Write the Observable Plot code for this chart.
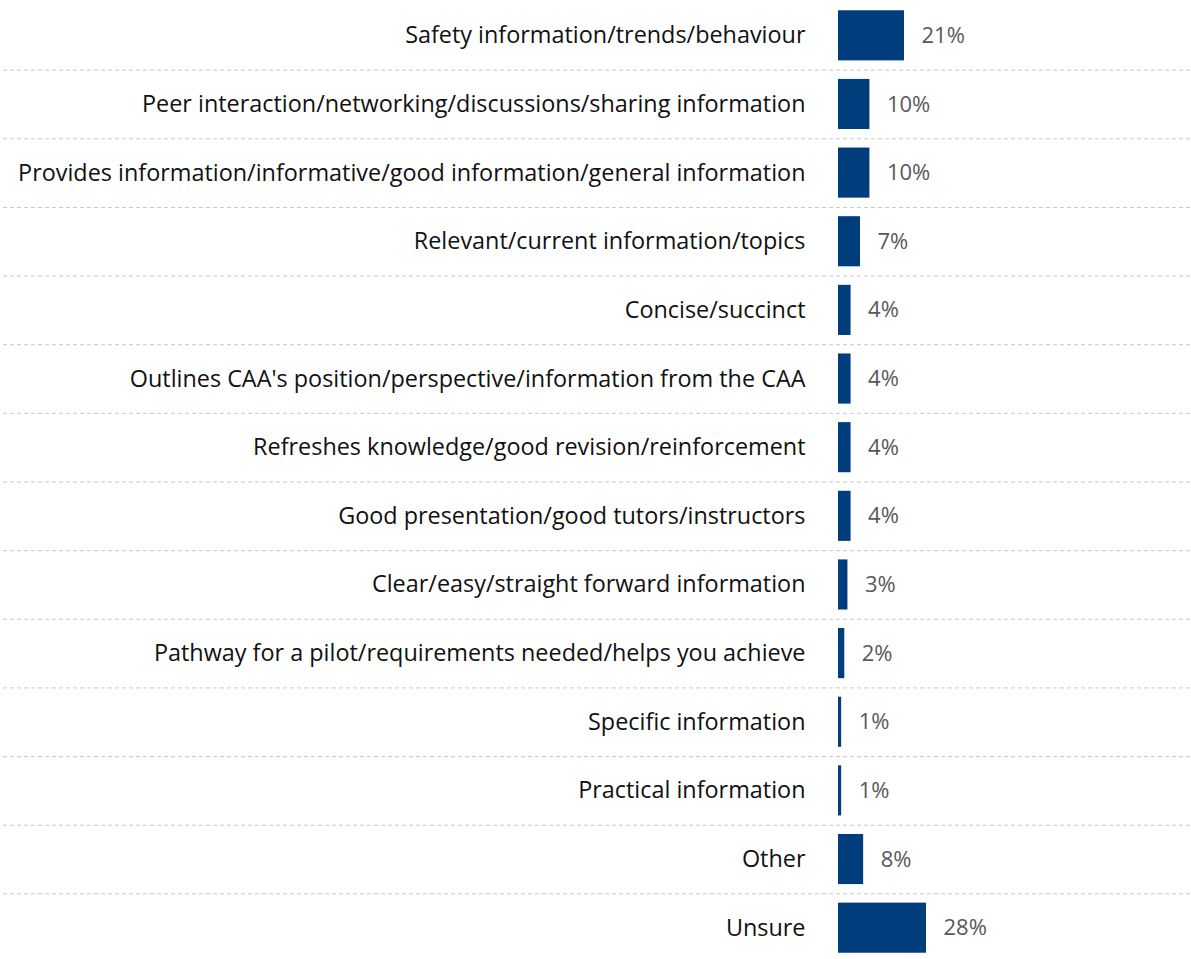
<!DOCTYPE html>
<html>
<head>
<meta charset="utf-8">
<script src="https://cdn.jsdelivr.net/npm/d3@7"></script>
<script src="https://cdn.jsdelivr.net/npm/@observablehq/plot@0.6"></script>
<style>
  html, body { margin: 0; padding: 0; background: #fff; }
  #chart svg { display: block; }
</style>
</head>
<body>
<div id="chart"></div>
<script>
const categories = [
  "Safety information/trends/behaviour",
  "Peer interaction/networking/discussions/sharing information",
  "Provides information/informative/good information/general information",
  "Relevant/current information/topics",
  "Concise/succinct",
  "Outlines CAA's position/perspective/information from the CAA",
  "Refreshes knowledge/good revision/reinforcement",
  "Good presentation/good tutors/instructors",
  "Clear/easy/straight forward information",
  "Pathway for a pilot/requirements needed/helps you achieve",
  "Specific information",
  "Practical information",
  "Other",
  "Unsure"
];
const values = [21, 10, 10, 7, 4, 4, 4, 4, 3, 2, 1, 1, 8, 28];
const valueLabels = ["21%", "10%", "10%", "7%", "4%", "4%", "4%", "4%", "3%", "2%", "1%", "1%", "8%", "28%"];

const data = categories.map((c, i) => ({category: c, value: values[i], label: valueLabels[i]}));
const separators = categories.slice(0, -1);

const font = "'Open Sans', sans-serif";

const chart = Plot.plot({
  width: 1191,
  height: 959,
  marginLeft: 3,
  marginRight: 0,
  marginTop: 0,
  marginBottom: 0,
  style: {fontFamily: font, background: "#fff"},
  x: {domain: [0, 100], range: [838, 838 + 314.3], axis: null},
  y: {domain: categories, range: [1, 962], paddingInner: 0.27, paddingOuter: 0.135, round: false, axis: null},
  marks: [
    Plot.ruleY(separators, {y: d => d, dy: 34.32, stroke: "#c8c8c8", strokeWidth: 1, strokeDasharray: "4,3"}),
    Plot.barX(data, {y: "category", x: "value", fill: "#003d7c"}),
    Plot.text(data, {y: "category", x: 0, text: "category", textAnchor: "end", dx: -33, fill: "#111", fontSize: 23.4}),
    Plot.text(data, {y: "category", x: "value", text: "label", textAnchor: "start", dx: 17, fill: "#595959", fontSize: 22})
  ]
});
document.getElementById("chart").appendChild(chart);
</script>
</body>
</html>
